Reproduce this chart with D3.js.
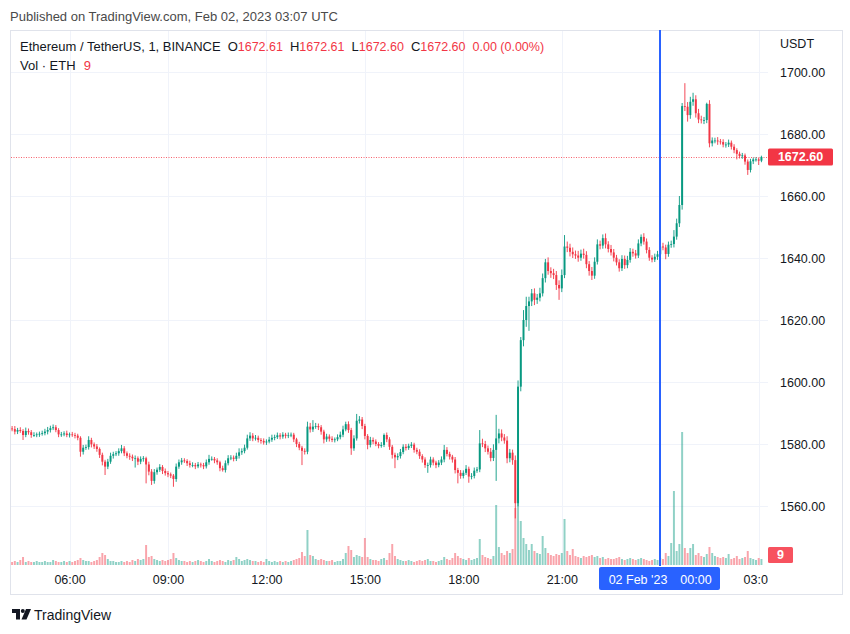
<!DOCTYPE html>
<html><head><meta charset="utf-8">
<script src="https://cdn.jsdelivr.net/npm/d3@7"></script>
<style>
body{margin:0;background:#fff;}
svg{display:block;font-family:"Liberation Sans",Arial,sans-serif;}
</style>
</head><body>
<svg id="chart" width="850" height="634"></svg>
<script>
// ---------------- DATA (5-minute candles) ----------------
const startTime = "2023-02-01T04:15:00Z";
const intervalMinutes = 5;
const firstOpen = 1585.0;
const closes = [
1584.8,1584.0,1584.5,1584.2,1582.9,1584.2,1583.8,1582.9,1582.9,1583.1,
1583.3,1583.5,1584.0,1584.5,1585.1,1585.4,1584.5,1583.1,1583.1,1583.4,
1582.9,1583.1,1582.9,1582.7,1582.0,1577.5,1578.8,1579.0,1581.3,1579.9,
1579.2,1578.4,1576.5,1574.3,1572.7,1574.3,1576.2,1576.7,1577.0,1577.7,
1578.6,1577.0,1576.2,1575.9,1575.4,1575.4,1574.3,1575.2,1575.4,1573.4,
1571.1,1568.1,1570.9,1571.7,1572.6,1571.3,1570.6,1570.2,1569.8,1568.7,
1572.7,1574.1,1574.7,1574.5,1573.8,1573.2,1573.2,1572.8,1573.4,1573.2,
1572.8,1574.1,1575.2,1575.2,1574.7,1574.1,1572.2,1571.6,1573.8,1575.4,
1575.6,1575.2,1576.2,1577.3,1577.7,1578.8,1581.8,1582.7,1581.8,1582.0,
1581.3,1581.0,1580.5,1580.8,1581.4,1582.0,1582.2,1582.8,1582.4,1583.0,
1582.6,1582.8,1583.0,1581.5,1580.0,1578.8,1577.8,1577.5,1585.6,1584.7,
1585.6,1585.8,1585.4,1584.0,1581.5,1582.4,1581.7,1581.3,1581.5,1582.2,
1583.0,1584.7,1586.4,1584.5,1578.6,1581.8,1587.5,1587.9,1585.8,1582.6,
1579.7,1581.3,1580.8,1580.0,1579.4,1579.7,1582.9,1581.5,1579.1,1576.5,
1575.7,1576.1,1577.4,1579.1,1578.7,1579.4,1579.8,1578.1,1577.5,1576.1,
1575.0,1573.2,1573.2,1575.0,1574.0,1573.2,1574.0,1575.0,1578.1,1576.8,
1575.9,1575.0,1571.6,1570.7,1569.7,1570.7,1572.0,1569.5,1569.7,1571.4,
1571.8,1580.2,1580.0,1578.6,1577.5,1575.5,1578.1,1581.8,1583.4,1582.1,
1581.1,1575.4,1577.2,1574.8,1560.9,1598.5,1613.5,1620.0,1624.5,1626.0,
1628.6,1626.5,1627.2,1628.6,1633.5,1638.6,1635.8,1635.1,1634.5,1631.3,
1630.2,1634.5,1643.7,1643.3,1642.0,1641.2,1640.8,1640.1,1641.4,1641.0,
1638.0,1635.8,1634.3,1638.8,1644.4,1644.0,1646.4,1644.4,1642.9,1641.8,
1640.1,1638.6,1636.7,1639.7,1637.7,1639.4,1642.0,1641.5,1640.8,1644.7,
1646.8,1645.3,1642.6,1640.1,1639.5,1640.4,1641.2,1643.7,1643.4,1641.3,
1644.3,1644.5,1646.9,1651.2,1657.1,1689.0,1688.8,1686.1,1690.4,1691.2,
1686.7,1684.7,1684.5,1684.5,1689.7,1677.0,1677.9,1677.9,1677.6,1677.4,
1676.6,1676.6,1677.2,1675.9,1674.8,1673.6,1672.9,1673.1,1671.1,1668.4,
1671.2,1671.8,1671.8,1671.4,1672.6
];
// upper / lower wick length beyond the body (USDT)
const wickUp = [
0.8,1.0,0.7,0.9,0.6,1.1,0.8,0.7,0.9,0.6, 0.7,0.8,0.9,1.0,0.8,0.9,0.7,0.6,0.8,0.7,
0.9,0.6,0.8,0.7,0.6,0.5,0.9,0.8,1.2,0.7, 0.6,0.8,0.5,0.7,0.6,0.9,1.0,0.8,0.7,0.9,
1.1,0.7,0.6,0.8,0.7,0.9,0.6,0.8,0.7,0.5, 0.9,0.8,1.0,0.7,0.9,0.6,0.8,0.7,0.6,0.5,
1.0,0.9,0.8,0.7,0.6,0.8,0.9,0.7,0.8,0.6, 0.7,0.9,1.3,0.8,0.6,0.7,0.5,0.8,0.9,1.0,
0.8,0.7,1.0,1.3,0.9,1.0,1.2,1.1,0.8,0.9, 0.7,0.6,0.8,0.7,0.9,1.0,0.8,0.9,0.7,0.8,
0.6,0.9,0.7,0.6,0.5,0.7,0.6,0.8,1.6,1.2, 2.1,1.0,0.8,0.7,0.6,0.9,0.7,0.8,0.6,0.9,
1.0,1.2,0.8,0.9,0.7,1.0,2.2,1.1,0.8,0.7, 0.6,1.0,0.8,0.7,0.6,0.9,0.5,0.8,0.7,0.6,
0.7,0.9,1.0,0.8,0.9,0.7,0.8,0.6,0.7,0.8, 0.6,0.7,0.8,0.9,0.7,0.6,0.8,1.0,1.6,0.9,
0.7,0.6,0.8,0.7,0.9,0.8,1.2,0.7,0.9,1.0, 0.8,4.3,1.5,1.0,0.9,1.2,1.8,7.6,1.5,1.3,
1.1,1.4,1.2,1.0,1.5,2.0,1.0,3.2,3.0,1.5, 1.4,1.6,1.2,1.8,1.5,1.1,1.6,1.2,1.4,1.3,
1.5,1.8,3.7,1.6,1.3,1.4,1.2,1.5,1.3,1.6, 1.2,1.0,1.3,1.4,1.6,1.2,1.2,1.5,1.0,1.3,
1.1,0.9,1.0,1.2,1.1,1.3,1.2,1.0,1.1,1.3, 0.8,1.2,1.0,0.9,0.8,1.0,1.1,1.0,1.2,0.9,
1.0,1.1,2.1,1.5,2.9,1.0,7.4,1.5,1.6,2.1, 1.3,1.4,1.2,1.0,0.4,1.2,1.0,0.9,1.1,0.8,
0.9,0.8,1.0,0.7,0.8,0.6,0.7,0.8,0.6,0.7, 0.8,0.6,0.7,0.5,0.4
];
const wickDown = [
0.7,0.9,0.8,0.6,1.6,0.7,0.8,0.9,0.6,0.7, 0.8,0.6,0.7,0.9,0.8,0.6,0.7,0.9,0.8,0.6,
0.7,0.8,0.6,0.9,0.8,1.6,0.9,0.7,0.8,1.0, 0.8,0.9,1.0,1.2,2.7,0.8,0.7,0.9,0.6,0.8,
0.7,0.9,0.8,1.0,0.9,3.0,1.1,0.8,0.9,6.1, 1.2,1.3,0.9,0.8,0.7,1.0,0.8,0.9,0.8,2.5,
0.9,0.7,0.8,0.6,0.9,0.8,0.7,0.9,0.6,0.8, 0.9,0.7,0.8,0.6,0.9,0.8,1.0,0.5,0.8,0.7,
0.6,0.8,0.7,0.9,0.8,0.7,0.6,0.8,0.9,0.7, 0.8,0.9,0.7,0.8,0.6,0.7,0.8,0.6,0.9,0.7,
0.8,0.7,0.6,0.9,1.0,0.8,4.6,0.9,0.8,1.0, 0.8,0.7,0.9,1.0,1.3,0.8,0.9,0.7,0.8,0.6,
0.7,0.8,0.6,0.9,2.1,0.8,0.7,0.9,1.0,1.1, 1.4,0.8,0.9,0.7,0.8,0.6,0.7,0.9,1.0,1.2,
3.5,0.9,0.8,0.7,0.8,0.6,0.7,0.9,0.8,0.9, 1.0,0.9,2.5,0.8,0.9,1.0,0.7,0.8,0.9,0.8,
0.9,1.0,1.1,3.4,0.9,0.8,0.7,2.0,0.9,0.8, 0.7,0.9,1.0,1.2,0.9,1.1,1.0,10.0,1.6,1.2,
1.0,1.6,1.3,1.5,4.9,1.0,1.5,2.0,2.2,8.0, 1.5,1.7,1.3,1.2,1.0,1.4,1.2,1.5,1.3,1.6,
3.7,1.2,1.0,1.4,1.5,1.2,1.1,1.3,1.0,1.2, 1.3,1.5,1.4,1.0,0.9,1.2,1.0,1.3,1.1,1.0,
1.2,1.0,1.1,0.9,1.2,1.0,0.9,1.1,1.0,0.8, 0.9,1.0,1.1,1.0,0.9,0.8,1.0,1.1,0.9,1.7,
0.9,1.0,1.1,1.0,1.2,1.5,1.4,2.1,1.2,1.3, 1.4,1.2,1.1,1.3,1.0,1.3,1.0,0.9,1.1,0.8,
0.9,1.0,0.8,0.9,1.0,1.8,0.8,0.9,1.0,1.6, 0.8,0.9,0.7,1.4,0.5
];
// volume per candle (ETH)
const volumes = [
2100,2800,2100,3500,5600,2100,2800,2100,2100,2800, 2100,2100,2800,2100,2100,3500,2800,2100,2100,2800,
2100,2800,2100,2800,3500,4900,3500,2800,2800,2100, 2800,3500,5600,8400,7000,4200,2800,2800,2100,2100,
2800,2100,2800,2100,3500,2800,4200,3500,4200,14000, 5600,6300,4200,3500,2800,3500,2800,3500,4200,8400,
4900,3500,2800,2800,2100,2800,2100,2800,3500,2800, 2100,2800,4200,2800,2100,2800,3500,2800,2100,3500,
2800,3500,5600,4200,2800,3500,4200,3500,2800,2800, 2100,2800,2100,4200,2800,2100,2800,2100,2800,2100,
2800,2100,2800,3500,4200,4900,9100,6300,24500,7000, 6300,4200,3500,4200,3500,2800,2800,3500,2100,2800,
2800,4200,8400,13300,10500,5600,7000,6300,5600,18900, 5600,4200,3500,3500,2800,4200,4900,3500,8400,14700,
6300,4200,3500,2800,2800,3500,2800,2100,2800,3500, 2800,3500,4200,2800,2800,2100,2800,3500,5600,4200,
3500,4900,8400,6300,4900,4200,3500,4900,3500,4200, 4900,18200,7000,5600,4900,4200,6300,42000,12600,8400,
7000,9800,8400,11200,39900,53900,30800,18900,14700,10500, 14700,9800,8400,7700,20300,11900,8400,7000,6300,7700,
7000,8400,32200,9800,7000,11200,6300,5600,4900,6300, 5600,6300,7000,5600,6300,4900,5600,4200,4900,4200,
4200,4900,5600,4200,3500,4200,4900,4200,3500,4200, 4900,4200,3500,2800,3500,4200,3500,4900,4200,8400,
6300,15400,51800,9800,14700,93100,11900,8400,11900,14700, 7000,8400,6300,5600,7700,12600,8400,6300,5600,4900,
5600,4900,7700,4200,4900,6300,4200,4900,5600,9800, 4900,4200,3500,4900,4200
];
const priceTicks = [1560, 1580, 1600, 1620, 1640, 1660, 1680, 1700];
const timeTicks = ["2023-02-01T06:00:00Z","2023-02-01T09:00:00Z","2023-02-01T12:00:00Z","2023-02-01T15:00:00Z",
                   "2023-02-01T18:00:00Z","2023-02-01T21:00:00Z","2023-02-02T00:00:00Z","2023-02-02T03:00:00Z"];
const timeTickLabels = ["06:00","09:00","12:00","15:00","18:00","21:00","00:00","03:00"];
const markerTime = "2023-02-02T00:00:00Z";
const markerDateLabel = "02 Feb '23";
const markerTimeLabel = "00:00";
const lastPrice = 1672.60;
const lastVolumeLabel = "9";
const publishedText = "Published on TradingView.com, Feb 02, 2023 03:07 UTC";
const symbolText = "Ethereum / TetherUS, 1, BINANCE";
const ohlcKeys = ["O","H","L","C"];
const ohlcVals = ["1672.61","1672.61","1672.60","1672.60"];
const changeText = "0.00 (0.00%)";
const volTitle = "Vol · ETH";
const currencyLabel = "USDT";

// ---------------- DRAW ----------------
const UP = "#089981", DOWN = "#f23645";
const svg = d3.select("#chart");
const plotL = 11, plotR = 768, plotT = 31, plotB = 566;

const t0 = new Date(startTime).getTime();
const candles = closes.map((c, i) => {
  const o = i === 0 ? firstOpen : closes[i - 1];
  return { t: new Date(t0 + i * intervalMinutes * 60000), o, c,
           h: Math.max(o, c) + wickUp[i], l: Math.min(o, c) - wickDown[i], v: volumes[i] };
});

const x = d3.scaleUtc()
  .domain([new Date("2023-02-01T04:13:00Z"), new Date("2023-02-02T03:17:00Z")])
  .range([plotL, plotR]);
const y = d3.scaleLinear().domain([1560, 1700]).range([506, 72]);
const yv = d3.scaleLinear().domain([0, 101500]).range([565, 420]);

const step = x(new Date(t0 + intervalMinutes * 60000)) - x(new Date(t0));
const bodyW = Math.max(1, step * 0.72);

// frame
svg.append("rect").attr("x", 10.5).attr("y", 30.5).attr("width", 832).attr("height", 564)
  .attr("fill", "#fff").attr("stroke", "#e0e3eb");

// clip
const defs = svg.append("defs");
defs.append("clipPath").attr("id", "plotClip").append("rect")
  .attr("x", plotL).attr("y", plotT).attr("width", plotR - plotL).attr("height", plotB - plotT);
defs.append("clipPath").attr("id", "timeClip").append("rect")
  .attr("x", plotL).attr("y", plotB).attr("width", plotR - plotL).attr("height", 28);

// grid
const grid = svg.append("g").attr("clip-path", "url(#plotClip)");
grid.selectAll("line.h").data(priceTicks).join("line")
  .attr("x1", plotL).attr("x2", plotR)
  .attr("y1", d => Math.round(y(d)) + 0.5).attr("y2", d => Math.round(y(d)) + 0.5)
  .attr("stroke", "#f0f3fa");
grid.selectAll("line.v").data(timeTicks).join("line")
  .attr("x1", d => Math.round(x(new Date(d))) + 0.5).attr("x2", d => Math.round(x(new Date(d))) + 0.5)
  .attr("y1", plotT).attr("y2", plotB)
  .attr("stroke", "#f0f3fa");

const plot = svg.append("g").attr("clip-path", "url(#plotClip)");

// volume
plot.append("g").selectAll("rect").data(candles).join("rect")
  .attr("x", d => x(d.t) - bodyW / 2).attr("width", bodyW)
  .attr("y", d => yv(d.v)).attr("height", d => yv(0) - yv(d.v))
  .attr("fill", d => d.c >= d.o ? UP : DOWN).attr("opacity", 0.45);

// last price dotted line
plot.append("line").attr("x1", plotL).attr("x2", plotR)
  .attr("y1", Math.round(y(lastPrice)) + 0.5).attr("y2", Math.round(y(lastPrice)) + 0.5)
  .attr("stroke", "#f7525f").attr("stroke-dasharray", "1,1.5").attr("opacity", 0.9);

// candles
const cg = plot.append("g");
cg.selectAll("line").data(candles).join("line")
  .attr("x1", d => x(d.t)).attr("x2", d => x(d.t))
  .attr("y1", d => y(d.h)).attr("y2", d => y(d.l))
  .attr("stroke", d => d.c >= d.o ? UP : DOWN).attr("stroke-width", 0.9);
cg.selectAll("rect").data(candles).join("rect")
  .attr("x", d => x(d.t) - bodyW / 2).attr("width", bodyW)
  .attr("y", d => y(Math.max(d.o, d.c)))
  .attr("height", d => Math.max(0.8, Math.abs(y(d.o) - y(d.c))))
  .attr("fill", d => d.c >= d.o ? UP : DOWN);

// vertical marker line
const mx = Math.round(x(new Date(markerTime)));
svg.append("line").attr("x1", mx).attr("x2", mx).attr("y1", 30).attr("y2", plotB)
  .attr("stroke", "#2962ff").attr("stroke-width", 2);

// price axis
const yAxis = d3.axisRight(y).tickValues(priceTicks).tickFormat(d3.format(".2f")).tickSize(0).tickPadding(0);
const ya = svg.append("g").attr("transform", `translate(780,0)`).call(yAxis);
ya.select(".domain").remove();
ya.selectAll("text").attr("fill", "#131722").attr("font-size", "12.5px")
  .attr("font-family", '"Liberation Sans",Arial,sans-serif').attr("text-anchor", "start").attr("dy", "0.35em");
svg.append("text").attr("x", 780).attr("y", 48).attr("fill", "#131722").attr("font-size", "12.5px").text(currencyLabel);

// last price label
const ly = y(lastPrice);
svg.append("rect").attr("x", 768).attr("y", ly - 8.5).attr("width", 65).attr("height", 17).attr("rx", 1.5).attr("fill", DOWN);
svg.append("text").attr("x", 800.5).attr("y", ly).attr("dy", "0.35em").attr("text-anchor", "middle")
  .attr("fill", "#fff").attr("font-size", "12.5px").attr("font-weight", "bold").text(d3.format(".2f")(lastPrice));

// volume label
svg.append("rect").attr("x", 768).attr("y", 547).attr("width", 25).attr("height", 16).attr("rx", 1.5).attr("fill", "#f7525f");
svg.append("text").attr("x", 780.5).attr("y", 555).attr("dy", "0.35em").attr("text-anchor", "middle")
  .attr("fill", "#fff").attr("font-size", "12.5px").attr("font-weight", "bold").text(lastVolumeLabel);

// time axis (the 00:00 tick is shown inside the highlighted marker box instead)
const xAxis = d3.axisBottom(x).tickValues(timeTicks.map(d => new Date(d)))
  .tickFormat((d, i) => timeTickLabels[i]).tickSize(0).tickPadding(0);
const xa = svg.append("g").attr("clip-path", "url(#timeClip)")
  .append("g").attr("transform", `translate(0,${plotB})`).call(xAxis);
xa.select(".domain").remove();
xa.selectAll("text").attr("fill", "#131722").attr("font-size", "12.5px")
  .attr("font-family", '"Liberation Sans",Arial,sans-serif').attr("dy", "0").attr("y", 18);
xa.selectAll(".tick").filter(d => +d === +new Date(markerTime)).remove();

// marker time label box
svg.append("rect").attr("x", mx - 61).attr("y", 567).attr("width", 121).attr("height", 23).attr("rx", 2).attr("fill", "#2962ff");
svg.append("text").attr("x", mx - 22).attr("y", 584).attr("text-anchor", "middle").attr("fill", "#fff")
  .attr("font-size", "12.5px").text(markerDateLabel);
svg.append("text").attr("x", mx + 36).attr("y", 584).attr("text-anchor", "middle").attr("fill", "#fff")
  .attr("font-size", "12.5px").text(markerTimeLabel);

// header texts
svg.append("text").attr("x", 10).attr("y", 21).attr("fill", "#4a4a4a").attr("font-size", "13px").text(publishedText);
const ht = svg.append("text").attr("x", 20).attr("y", 51).attr("font-size", "13px").attr("fill", "#131722");
ht.append("tspan").text(symbolText);
ohlcKeys.forEach((k, i) => {
  ht.append("tspan").attr("dx", i === 0 ? 7 : 7).attr("fill", "#131722").text(k);
  ht.append("tspan").attr("fill", DOWN).attr("font-size", "12.5px").text(ohlcVals[i]);
});
ht.append("tspan").attr("dx", 7).attr("fill", DOWN).attr("font-size", "12.5px").text(changeText);
const vt = svg.append("text").attr("x", 20).attr("y", 70).attr("font-size", "13px").attr("fill", "#131722");
vt.append("tspan").text(volTitle);
vt.append("tspan").attr("dx", 8).attr("fill", DOWN).text(lastVolumeLabel);

// TradingView logo
const logo = svg.append("g").attr("fill", "#131722");
logo.append("path").attr("d", "M12 609h8v10.5h-4v-6.5h-4z");
logo.append("circle").attr("cx", 22.8).attr("cy", 611).attr("r", 2);
logo.append("path").attr("d", "M26 609h5l-4.5 10.5h-5z");
svg.append("text").attr("x", 34).attr("y", 620).attr("fill", "#131722").attr("font-size", "14px").text("TradingView");
</script>
</body></html>
